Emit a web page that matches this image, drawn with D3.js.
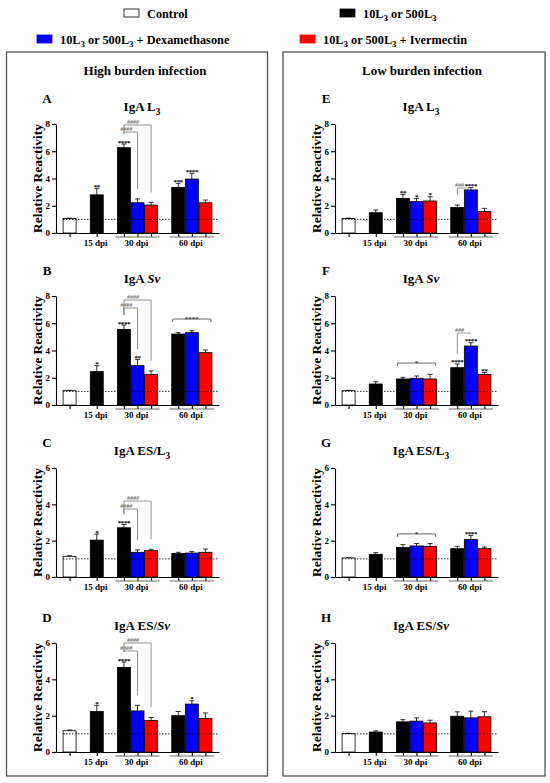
<!DOCTYPE html>
<html>
<head>
<meta charset="utf-8">
<script src="https://cdn.jsdelivr.net/npm/d3@7"></script>
<style>
  body { margin: 0; background: #fff; }
  svg text { font-family: "Liberation Serif", "Times New Roman", serif; font-weight: bold; }
</style>
</head>
<body>
<div id="chart"></div>
<script>
// ---- data ----
var groups = ['', '15 dpi', '30 dpi', '60 dpi']
var groupSizes = [1, 1, 3, 3]
var seriesNames = ['Control', '10L_3 or 500L_3', '10L_3 or 500L_3 + Dexamethasone', '10L_3 or 500L_3 + Ivermectin']
var barSeries = [0, 1, 1, 2, 3, 1, 2, 3]
var panelLetters = ['A', 'B', 'C', 'D', 'E', 'F', 'G', 'H']
var panelTitles = ['IgA L_3', 'IgA *Sv*', 'IgA ES/L_3', 'IgA ES/*Sv*', 'IgA L_3', 'IgA *Sv*', 'IgA ES/L_3', 'IgA ES/*Sv*']
var columnTitles = ['High burden infection', 'Low burden infection']
var yMaxes = [8, 8, 6, 6, 8, 8, 6, 6]

var valuesA = [1.07, 2.80, 6.26, 2.22, 2.05, 3.35, 3.96, 2.22]
var errorsA = [0.02, 0.48, 0.27, 0.28, 0.20, 0.30, 0.42, 0.20]
var valuesB = [1.05, 2.45, 5.55, 2.89, 2.25, 5.21, 5.31, 3.84]
var errorsB = [0.02, 0.44, 0.32, 0.46, 0.25, 0.10, 0.14, 0.20]
var valuesC = [1.14, 2.03, 2.71, 1.36, 1.45, 1.30, 1.32, 1.36]
var errorsC = [0.03, 0.33, 0.19, 0.13, 0.08, 0.06, 0.09, 0.18]
var valuesD = [1.17, 2.23, 4.66, 2.26, 1.74, 2.00, 2.64, 1.85]
var errorsD = [0.04, 0.34, 0.29, 0.31, 0.16, 0.23, 0.18, 0.30]
var valuesE = [1.07, 1.49, 2.54, 2.30, 2.35, 1.88, 3.16, 1.57]
var errorsE = [0.02, 0.20, 0.30, 0.24, 0.31, 0.18, 0.17, 0.24]
var valuesF = [1.05, 1.54, 1.91, 1.96, 1.91, 2.74, 4.33, 2.25]
var errorsF = [0.02, 0.17, 0.12, 0.17, 0.34, 0.27, 0.24, 0.15]
var valuesG = [1.05, 1.25, 1.62, 1.71, 1.69, 1.56, 2.06, 1.56]
var errorsG = [0.02, 0.09, 0.16, 0.13, 0.15, 0.13, 0.23, 0.09]
var valuesH = [1.01, 1.10, 1.66, 1.70, 1.60, 1.97, 1.88, 1.94]
var errorsH = [0.02, 0.06, 0.12, 0.18, 0.15, 0.24, 0.37, 0.28]

var starsA = ['', '**', '****', '', '', '***', '****', '']
var starsB = ['', '*', '****', '**', '', '', '', '']
var starsC = ['', '*', '****', '', '', '', '', '']
var starsD = ['', '*', '****', '', '', '', '*', '']
var starsE = ['', '', '**', '*', '*', '', '****', '']
var starsF = ['', '', '', '', '', '****', '****', '**']
var starsG = ['', '', '', '', '', '', '****', '']
var starsH = ['', '', '', '', '', '', '', '']

// brackets: [from bar, to bar, level (axis units), label]
var bracketsA = [[2, 3, 7.41, '####'], [2, 4, 7.93, '####']]
var bracketsB = [[2, 3, 7.12, '####'], [2, 4, 7.70, '####'], [5, 7, 6.31, '****']]
var bracketsC = [[2, 3, 3.74, '####'], [2, 4, 4.18, '####']]
var bracketsD = [[2, 3, 5.56, '####'], [2, 4, 6.00, '####']]
var bracketsE = [[5, 6, 3.30, '###']]
var bracketsF = [[5, 6, 5.28, '###'], [2, 4, 3.08, '*']]
var bracketsG = [[2, 4, 2.37, '*']]
var bracketsH = []

var allValues = [valuesA, valuesB, valuesC, valuesD, valuesE, valuesF, valuesG, valuesH]
var allErrors = [errorsA, errorsB, errorsC, errorsD, errorsE, errorsF, errorsG, errorsH]
var allStars = [starsA, starsB, starsC, starsD, starsE, starsF, starsG, starsH]
var allBrackets = [bracketsA, bracketsB, bracketsC, bracketsD, bracketsE, bracketsF, bracketsG, bracketsH]

// ---- layout ----
var colors = ['#ffffff', '#000000', '#0000ff', '#ff0000']
var rowTops = [124, 296, 468, 643]
var plotH = 109
var colAxisX = [56, 335]
var plotW = 163

var svg = d3.select('#chart').append('svg')
  .attr('width', 550)
  .attr('height', 783)

// text with "_x" subscripts and "*...*" italics
function richText(sel, str, size) {
  var parts = str.split(/(\*[^*]+\*|_.)/).filter(function(p) { return p !== '' })
  var shift = size * 0.3
  var back = 0
  parts.forEach(function(p) {
    var t
    if (p[0] === '_') {
      t = sel.append('tspan').attr('font-size', size * 0.72).attr('dy', shift - back).text(p.slice(1))
      back = shift
      return
    } else if (p[0] === '*') {
      t = sel.append('tspan').attr('font-style', 'italic').text(p.slice(1, -1))
    } else {
      t = sel.append('tspan').text(p)
    }
    if (back) { t.attr('dy', -back); back = 0 }
  })
  return sel
}

// legend
var legendPos = [[124, 9], [340, 9], [37, 35], [300, 35]]
seriesNames.forEach(function(name, i) {
  var g = svg.append('g').attr('transform', 'translate(' + legendPos[i][0] + ',' + legendPos[i][1] + ')')
  g.append('rect')
    .attr('width', 15).attr('height', 8)
    .attr('fill', colors[i])
    .attr('stroke', i === 0 ? '#000' : colors[i])
    .attr('stroke-width', 0.8)
  richText(g.append('text').attr('x', 23).attr('y', 8.5).attr('font-size', 12.3), name, 12.3)
})

// column boxes
var boxX = [6.5, 283]
var boxW = [261, 262]
boxX.forEach(function(bx, c) {
  svg.append('rect')
    .attr('x', bx).attr('y', 52)
    .attr('width', boxW[c]).attr('height', 724)
    .attr('fill', 'none')
    .attr('stroke', '#555')
    .attr('stroke-width', 1.3)
  svg.append('text')
    .attr('x', bx + boxW[c] / 2 + 8).attr('y', 75)
    .attr('text-anchor', 'middle')
    .attr('font-size', 13)
    .text(columnTitles[c])
})

// slot index for each bar (one empty slot between groups)
var slots = []
var s = 0
groupSizes.forEach(function(n) {
  for (var k = 0; k < n; k++) slots.push(s++)
  s++
})

panelLetters.forEach(function(letter, p) {
  var col = Math.floor(p / 4)
  var row = p % 4
  var ax = colAxisX[col]
  var top = rowTops[row]
  var bottom = top + plotH
  var values = allValues[p]
  var errors = allErrors[p]

  var x = d3.scaleLinear().domain([-1, 11]).range([ax, ax + plotW])
  var y = d3.scaleLinear().domain([0, yMaxes[p]]).range([bottom, top])
  var bw = 13

  var g = svg.append('g')

  g.append('text')
    .attr('x', ax - 9).attr('y', top - 21)
    .attr('text-anchor', 'middle')
    .attr('font-size', 13)
    .text(letter)
  richText(g.append('text')
    .attr('x', ax + 86).attr('y', top - 13)
    .attr('text-anchor', 'middle')
    .attr('font-size', 13), panelTitles[p], 13)

  g.append('text')
    .attr('transform', 'translate(' + (ax - 19) + ',' + (top + plotH / 2) + ') rotate(-90)')
    .attr('text-anchor', 'middle')
    .attr('dominant-baseline', 'central')
    .attr('font-size', 13.5)
    .text('Relative Reactivity')

  // y axis
  var yAxis = g.append('g')
    .attr('transform', 'translate(' + ax + ',0)')
    .call(d3.axisLeft(y).tickValues(d3.range(0, yMaxes[p] + 1, 2)).tickFormat(d3.format('d'))
      .tickSize(4).tickSizeOuter(0).tickPadding(2))
  yAxis.selectAll('text').attr('font-size', 9).attr('font-family', '"Liberation Serif", serif').attr('font-weight', 'bold')
  yAxis.selectAll('line, path').attr('stroke', '#000').attr('stroke-width', 1.1)

  // x axis with ticks at bar centres
  var xAxis = g.append('g')
    .attr('transform', 'translate(0,' + bottom + ')')
    .call(d3.axisBottom(x).tickValues(slots).tickFormat('').tickSize(4).tickSizeOuter(0))
  xAxis.selectAll('line, path').attr('stroke', '#000').attr('stroke-width', 1.1)

  // group underlines and labels
  var start = 0
  groups.forEach(function(name, gi) {
    var n = groupSizes[gi]
    var first = slots[start], last = slots[start + n - 1]
    if (n > 1) {
      g.append('line')
        .attr('x1', x(first) - bw / 2 - 2).attr('x2', x(last) + bw / 2 + 2)
        .attr('y1', bottom + 4).attr('y2', bottom + 4)
        .attr('stroke', '#444').attr('stroke-width', 0.8)
    }
    if (name) {
      g.append('text')
        .attr('x', (x(first) + x(last)) / 2 - 1).attr('y', bottom + 13)
        .attr('text-anchor', 'middle')
        .attr('font-size', 9)
        .text(name)
    }
    start += n
  })

  // bars
  g.selectAll('rect.bar')
    .data(values)
    .join('rect')
      .attr('class', 'bar')
      .attr('x', function(d, i) { return x(slots[i]) - bw / 2 })
      .attr('y', function(d) { return y(d) })
      .attr('width', bw)
      .attr('height', function(d) { return bottom - y(d) })
      .attr('fill', function(d, i) { return colors[barSeries[i]] })
      .attr('stroke', '#000')
      .attr('stroke-width', 0.8)

  // error bars (upper only)
  var eb = g.selectAll('g.err')
    .data(values)
    .join('g')
      .attr('class', 'err')
  eb.append('line')
    .attr('x1', function(d, i) { return x(slots[i]) })
    .attr('x2', function(d, i) { return x(slots[i]) })
    .attr('y1', function(d) { return y(d) })
    .attr('y2', function(d, i) { return y(d + errors[i]) })
    .attr('stroke', '#000').attr('stroke-width', 0.8)
  eb.append('line')
    .attr('x1', function(d, i) { return x(slots[i]) - 2.5 })
    .attr('x2', function(d, i) { return x(slots[i]) + 2.5 })
    .attr('y1', function(d, i) { return y(d + errors[i]) })
    .attr('y2', function(d, i) { return y(d + errors[i]) })
    .attr('stroke', '#000').attr('stroke-width', 0.8)

  // dotted reference line at 1
  g.append('line')
    .attr('x1', ax + 7).attr('x2', ax + plotW)
    .attr('y1', y(1)).attr('y2', y(1))
    .attr('stroke', '#000').attr('stroke-width', 0.8)
    .attr('stroke-dasharray', '1.5,1.5')

  // significance stars
  g.selectAll('text.star')
    .data(allStars[p])
    .join('text')
      .attr('class', 'star')
      .attr('x', function(d, i) { return x(slots[i]) })
      .attr('y', function(d, i) { return y(values[i] + errors[i]) + 0.5 })
      .attr('text-anchor', 'middle')
      .attr('font-size', 7)
      .attr('letter-spacing', -0.4)
      .text(function(d) { return d })

  // brackets
  allBrackets[p].forEach(function(b) {
    var i0 = b[0], i1 = b[1], ly = y(b[2])
    var isHash = b[3][0] === '#'
    var col = isHash ? '#777' : '#444'
    var xa, xb, legA, legB
    if (isHash) {
      xa = x(slots[i0]); xb = x(slots[i1])
      legA = Math.max(ly, y(values[i0] + errors[i0]) - 10)
      legB = Math.max(ly, y(values[i1] + errors[i1]) - 10)
    } else {
      xa = x(slots[i0]) - bw / 2 + 1; xb = x(slots[i1]) + bw / 2 - 1
      legA = ly + 3; legB = ly + 3
    }
    g.append('path')
      .attr('d', 'M' + xa + ',' + legA + 'V' + ly + 'H' + xb + 'V' + legB)
      .attr('fill', 'none')
      .attr('stroke', col)
      .attr('stroke-width', 0.8)
    g.append('text')
      .attr('x', isHash ? (xa + xb) / 2 - 4.5 : (xa + xb) / 2)
      .attr('y', isHash ? ly - 0.8 : ly + 2)
      .attr('text-anchor', 'middle')
      .attr('font-size', isHash ? 6 : 7)
      .attr('font-style', isHash ? 'italic' : 'normal')
      .attr('fill', col)
      .text(b[3])
  })
})
</script>
</body>
</html>
